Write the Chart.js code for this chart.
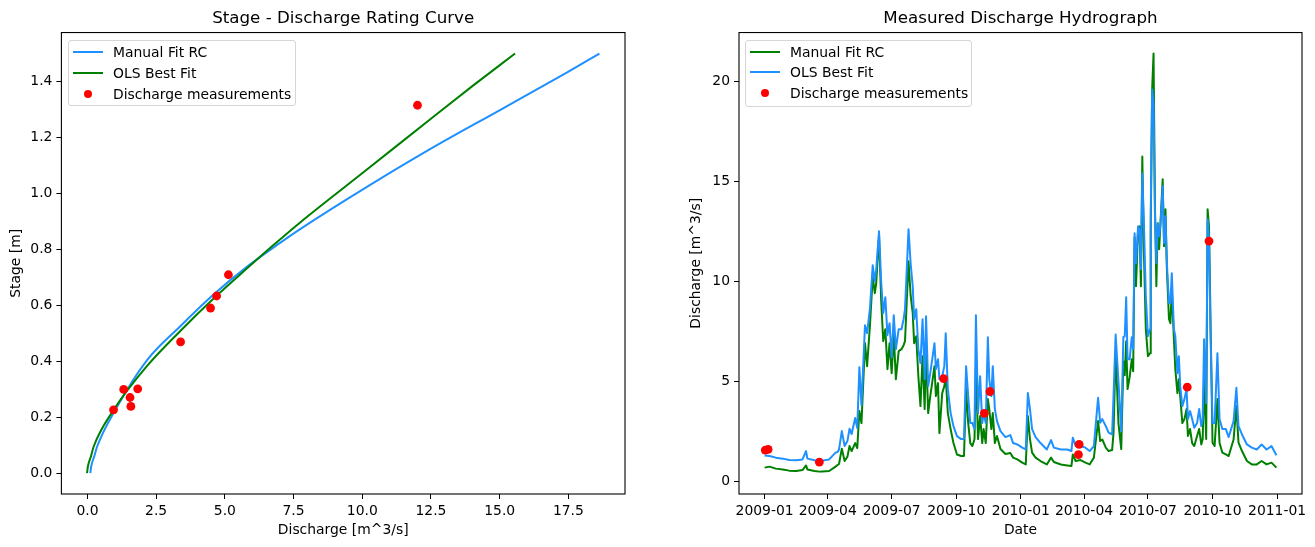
<!DOCTYPE html>
<html>
<head>
<meta charset="utf-8">
<script src="https://cdn.jsdelivr.net/npm/chart.js@4.4.1/dist/chart.umd.min.js"></script>
<style>
  body { margin: 0; background: #fff; }
  #fig { position: relative; width: 1315px; height: 547px; font-family: 'DejaVu Sans', sans-serif; }
  canvas { position: absolute; top: 0; }
  .legend { position: absolute; box-sizing: border-box; border: 1px solid #d6d6d6; border-radius: 3px; background: rgba(255,255,255,0.8); }
  .legend .item { position: absolute; left: 0; height: 20px; width: 100%; }
  .legend .line { position: absolute; left: 4px; top: 9px; width: 30px; height: 2px; }
  .legend .dot { position: absolute; left: 15px; top: 6px; width: 8.4px; height: 8.4px; border-radius: 50%; }
  .legend .txt { position: absolute; left: 44px; top: 0; line-height: 20px; font-size: 13.9px; color: #000; white-space: nowrap; }
</style>
</head>
<body>
<div id="fig">
  <canvas id="rating" width="655" height="547" style="left:0;width:655px;height:547px"></canvas>
  <canvas id="hydro" width="660" height="547" style="left:655px;width:660px;height:547px"></canvas>
</div>
<script>
// ---- Rating curve ----
const manualQ     = [0.105, 0.14, 0.25, 0.35, 1.01, 2.17, 3.38, 4.59, 5.80, 7.01, 7.74, 10.17, 12.59, 15.01, 17.44, 18.63];
const manualStage = [0, 0.025, 0.06, 0.094, 0.225, 0.404, 0.525, 0.638, 0.737, 0.823, 0.872, 1.023, 1.165, 1.298, 1.432, 1.5];
const olsQ        = [-0.015, 0.02, 0.13, 0.225, 0.95, 2.17, 3.38, 4.59, 5.80, 6.77, 7.74, 10.17, 12.59, 14.04, 15.56];
const olsStage    = [0, 0.025, 0.06, 0.094, 0.225, 0.383, 0.508, 0.624, 0.731, 0.815, 0.896, 1.085, 1.274, 1.386, 1.5];

// discharge measurements (days since 2009-01-01, discharge, stage)
const measDay   = [1, 5, 78, 255, 313, 321, 447, 448, 602, 633];
const measQ     = [1.55, 1.58, 0.95, 5.13, 3.39, 4.48, 1.32, 1.83, 4.70, 12.01];
const measStage = [0.270, 0.238, 0.226, 0.709, 0.469, 0.590, 0.299, 0.301, 0.633, 1.315];

const qTicks     = [0, 2.5, 5, 7.5, 10, 12.5, 15, 17.5];
const stageTicks = [0, 0.2, 0.4, 0.6, 0.8, 1.0, 1.2, 1.4];

// ---- Hydrograph (days since 2009-01-01) ----
const flowDay = [0,7,16,26,35,45,54,59,61,71,78,82,92,101,104,106,110,114,118,121,124,129,132,135,138,143,146,150,154,157,159,163,166,169,172,175,178,181,184,187,191,195,198,200,205,208,211,213,216,219,222,225,228,230,233,236,238,242,244,247,249,253,256,258,261,265,269,274,280,284,287,290,293,296,299,301,304,307,310,312,315,318,320,323,325,328,331,336,343,350,354,360,367,372,375,378,381,386,393,402,408,412,422,431,437,439,443,450,457,463,469,475,478,481,486,490,495,497,500,504,508,511,513,515,517,520,523,525,527,529,532,534,536,538,540,543,546,549,550,552,554,556,558,560,562,564,567,569,571,573,576,578,580,583,585,588,590,592,595,598,601,603,606,609,612,616,619,622,624,626,629,631,633,635,638,641,645,648,652,657,661,668,672,675,680,687,694,701,708,715,722,729];
const flowOls = [1.28,1.25,1.17,1.12,1.05,1.04,1.08,1.50,1.12,1.04,0.98,1.02,1.08,1.42,1.45,1.58,2.50,1.75,2.00,2.62,2.35,3.15,2.65,5.70,3.80,7.80,7.40,8.60,10.8,10.0,10.6,12.5,10.0,8.4,9.2,7.3,7.9,6.2,8.3,6.6,7.6,7.6,8.1,8.6,12.6,10.9,9.75,8.1,8.6,6.6,5.9,8.1,5.1,8.25,4.75,5.4,5.9,6.9,5.6,6.1,5.1,5.25,5.75,7.4,4.6,3.4,2.75,2.25,2.1,2.1,5.75,4.25,2.9,2.9,2.6,8.3,3.4,5.25,2.9,3.4,2.9,7.2,5.1,4.25,5.75,3.6,3.0,2.5,2.2,2.3,1.9,1.83,1.67,1.58,4.4,3.6,2.6,2.2,1.9,1.58,2.05,1.67,1.58,1.58,1.5,2.17,1.75,1.75,1.67,1.5,1.75,4.17,2.92,3.1,2.75,2.42,2.33,4.25,7.33,5.0,2.5,7.2,7.25,9.2,6.1,6.1,7.2,6.6,12.4,10.9,12.75,12.6,10.6,15.4,13.25,9.25,7.25,7.6,13.4,19.6,18.9,13.4,10.9,12.9,12.25,12.9,14.75,11.9,13.25,10.9,8.9,8.9,10.4,7.6,7.25,5.4,6.25,4.75,3.75,4.1,4.6,3.1,3.5,3.1,2.67,2.9,3.6,2.75,3.1,7.1,3.9,13.1,12.1,7.6,2.9,2.9,6.4,3.1,2.6,2.6,2.2,3.0,4.67,2.75,2.33,1.83,1.67,1.58,1.83,1.58,1.75,1.29];
const flowManual = [0.67,0.72,0.62,0.58,0.52,0.50,0.55,0.78,0.58,0.50,0.47,0.48,0.50,0.72,0.80,0.85,1.62,1.00,1.22,1.75,1.50,1.90,1.65,3.50,2.90,6.90,5.75,7.75,10.2,9.4,9.9,12.3,9.1,7.0,7.6,5.6,6.9,5.4,7.3,5.1,6.5,6.6,6.8,7.0,11.0,9.3,8.4,6.9,7.25,5.25,3.75,6.25,3.6,6.6,3.4,4.25,4.75,5.75,4.25,4.9,2.4,4.4,4.75,5.2,3.4,2.6,1.9,1.33,1.25,1.25,4.6,2.9,1.9,1.75,2.1,5.75,2.1,3.25,1.9,2.6,1.9,4.1,3.6,2.6,3.4,1.9,2.25,1.6,1.35,1.4,1.17,1.08,0.92,0.83,3.25,2.1,1.42,1.17,1.0,0.83,1.17,0.95,0.83,0.78,0.75,1.33,1.0,1.05,0.92,0.83,1.17,3.0,2.0,2.08,1.67,1.5,1.55,2.42,6.5,2.9,1.6,6.0,5.3,7.0,4.6,5.2,6.1,5.5,12.2,9.75,12.6,12.75,9.75,16.25,11.9,7.6,6.25,6.4,12.6,19.6,21.4,13.8,9.75,12.9,11.6,13.0,15.1,11.75,13.6,10.6,8.1,7.9,9.6,7.1,5.6,4.4,5.1,4.25,2.9,3.1,3.6,2.25,2.6,1.9,1.75,2.25,2.6,1.83,2.1,5.1,2.1,13.6,12.75,8.4,1.92,1.75,4.1,1.92,1.42,1.33,1.25,2.08,3.75,1.92,1.5,1.0,0.83,0.83,1.0,0.83,0.92,0.67];

const flowTicks  = [0, 5, 10, 15, 20];
const dateLabels = ['2009-01', '2009-04', '2009-07', '2009-10', '2010-01', '2010-04', '2010-07', '2010-10', '2011-01'];

const FONT = "'DejaVu Sans', sans-serif";
const BLUE = '#1e90ff', GREEN = '#008000', RED = '#ff0000';

function dayOf(label) {
  const [y, m] = label.split('-').map(Number);
  return (Date.UTC(y, m - 1, 1) - Date.UTC(2009, 0, 1)) / 86400000;
}

function pts(xs, ys) { return xs.map((x, i) => ({ x: x, y: ys[i] })); }

function axis(o) {
  return {
    type: 'linear', min: o.min, max: o.max,
    afterBuildTicks: s => { s.ticks = o.ticks.map(v => ({ value: v })); },
    afterFit: s => { if (s.isHorizontal()) s.height = o.size; else s.width = o.size; },
    ticks: { autoSkip: false, maxRotation: 0, color: '#000', padding: 4,
             font: { family: FONT, size: 13.9 }, callback: o.fmt },
    grid: { drawOnChartArea: false, drawTicks: true, tickLength: 5, color: '#000', lineWidth: 1 },
    border: { display: false },
    title: { display: true, text: o.title, color: '#000', font: { family: FONT, size: 13.9 }, padding: o.pad }
  };
}

// black box around the plot area
const frame = {
  id: 'frame',
  afterDatasetsDraw(c) {
    const a = c.chartArea, ctx = c.ctx;
    ctx.save();
    ctx.strokeStyle = '#000';
    ctx.lineWidth = 1.1;
    ctx.strokeRect(a.left, a.top, a.right - a.left, a.bottom - a.top);
    ctx.restore();
  }
};

function baseOptions(title, padRight, x, y) {
  return {
    responsive: false, animation: false, devicePixelRatio: 1,
    layout: { padding: { left: 0, right: padRight, top: 0, bottom: 0 } },
    plugins: {
      legend: { display: false }, tooltip: { enabled: false },
      title: { display: true, text: title, color: '#000', fullSize: false,
               font: { family: FONT, size: 16.7, weight: 'normal' }, padding: { top: 9, bottom: 3.5 } }
    },
    scales: { x: x, y: y }
  };
}

function lineSet(label, data, color, order, smooth) {
  return { label: label, data: data, borderColor: color, backgroundColor: color, borderWidth: 2,
           pointRadius: 0, fill: false, order: order, borderJoinStyle: 'round',
           cubicInterpolationMode: smooth ? 'monotone' : 'default', tension: 0 };
}

function dotSet(data) {
  return { label: 'Discharge measurements', data: data, showLine: false, pointRadius: 4.4,
           pointBackgroundColor: RED, pointBorderWidth: 0, borderColor: RED, backgroundColor: RED, order: 0 };
}

new Chart(document.getElementById('rating'), {
  type: 'line',
  data: { datasets: [
    dotSet(pts(measQ, measStage)),
    lineSet('OLS Best Fit', pts(olsQ, olsStage), GREEN, 1, true),
    lineSet('Manual Fit RC', pts(manualQ, manualStage), BLUE, 2, true)
  ] },
  options: baseOptions('Stage - Discharge Rating Curve', 30,
    axis({ min: -0.947, max: 19.56, ticks: qTicks, size: 53, title: 'Discharge [m^3/s]',
           pad: { top: 0, bottom: 8.7 }, fmt: v => v.toFixed(1) }),
    axis({ min: -0.075, max: 1.575, ticks: stageTicks, size: 61.4, title: 'Stage [m]',
           pad: { top: 7.7, bottom: 0 }, fmt: v => v.toFixed(1) })),
  plugins: [frame]
});

new Chart(document.getElementById('hydro'), {
  type: 'line',
  data: { datasets: [
    dotSet(pts(measDay, measQ)),
    lineSet('OLS Best Fit', pts(flowDay, flowOls), BLUE, 1, false),
    lineSet('Manual Fit RC', pts(flowDay, flowManual), GREEN, 2, false)
  ] },
  options: baseOptions('Measured Discharge Hydrograph', 13,
    axis({ min: -36.45, max: 765.45, ticks: dateLabels.map(dayOf), size: 53, title: 'Date',
           pad: { top: 0, bottom: 8.7 }, fmt: (v, i) => dateLabels[i] }),
    axis({ min: -0.65, max: 22.45, ticks: flowTicks, size: 84, title: 'Discharge [m^3/s]',
           pad: { top: 33, bottom: 0 }, fmt: v => String(v) })),
  plugins: [frame]
});

// legends drawn as html boxes inside the plot areas
function legend(box, items) {
  const el = document.createElement('div');
  el.className = 'legend';
  Object.assign(el.style, { left: box[0] + 'px', top: box[1] + 'px', width: box[2] + 'px', height: box[3] + 'px' });
  items.forEach((it, i) => {
    const row = document.createElement('div');
    row.className = 'item';
    row.style.top = (1 + i * 20.8) + 'px';
    const sw = document.createElement('div');
    sw.className = it.dot ? 'dot' : 'line';
    sw.style.background = it.color;
    const t = document.createElement('div');
    t.className = 'txt';
    t.textContent = it.label;
    row.appendChild(sw); row.appendChild(t);
    el.appendChild(row);
  });
  document.getElementById('fig').appendChild(el);
}

legend([68, 40, 228, 66], [
  { label: 'Manual Fit RC', color: BLUE },
  { label: 'OLS Best Fit', color: GREEN },
  { label: 'Discharge measurements', color: RED, dot: true }
]);
legend([745, 39.5, 227, 67], [
  { label: 'Manual Fit RC', color: GREEN },
  { label: 'OLS Best Fit', color: BLUE },
  { label: 'Discharge measurements', color: RED, dot: true }
]);
</script>
</body>
</html>
